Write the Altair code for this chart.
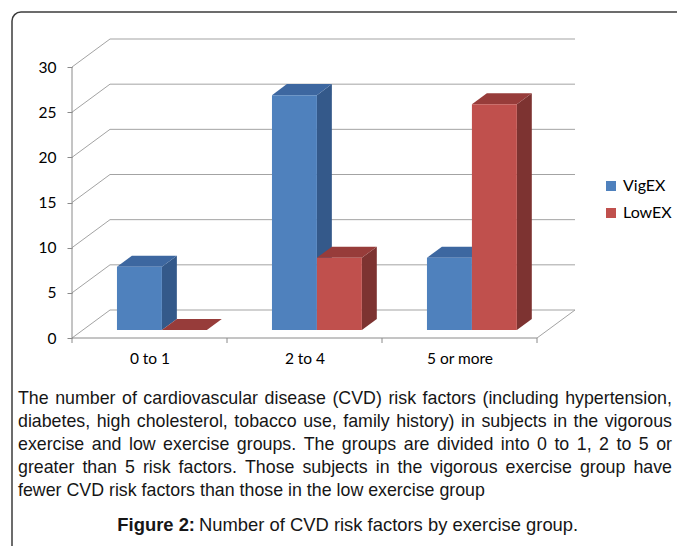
import json

import altair as alt
import pandas as pd

# ---- data -------------------------------------------------------------
CATEGORIES = ["0 to 1", "2 to 4", "5 or more"]
SERIES = ["VigEX", "LowEX"]
VIGEX = [7, 26, 8]
LOWEX = [0, 8, 25]
Y_TICKS = [0, 5, 10, 15, 20, 25, 30]

CAPTION_LINES = [
    "The number of cardiovascular disease (CVD) risk factors (including hypertension,",
    "diabetes, high cholesterol, tobacco use, family history) in subjects in the vigorous",
    "exercise and low exercise groups. The groups are divided into 0 to 1, 2 to 5 or",
    "greater than 5 risk factors. Those subjects in the vigorous exercise group have",
    "fewer CVD risk factors than those in the low exercise group",
]
FIG_LABEL = "Figure 2:"
FIG_TITLE = "Number of CVD risk factors by exercise group."

# ---- style ------------------------------------------------------------
# front, top and side shading of each series' boxes
FACE_COLORS = {
    "VigEX": ("#4F81BD", "#3D67A0", "#34598A"),
    "LowEX": ("#C0504D", "#973C3A", "#7D3331"),
}
GRID = "#A3A3A3"
AXIS = "#8A8A8A"
TICK_FONT, TICK_SIZE = "Lato", 15.5
CAP_FONT, CAP_SIZE = "Liberation Sans", 17.8
FIG_SIZE = 18.4

# ---- oblique 3-D frame geometry (data units) --------------------------
PLOT_W, PLOT_H = 503, 299
PX_PER_CAT = 155
X_MAX = PLOT_W / PX_PER_CAT
Y_MAX = 33.1
WALL_DX = 38 / PX_PER_CAT          # depth of the walls along x
WALL_DY = 28 * Y_MAX / PLOT_H       # depth of the walls along y
BAR_Z0, BAR_Z1 = 0.286, 0.393       # box front position / depth, fraction of wall depth
BAR_W = 0.29
GROUP_CENTER = 0.51

n_cat = len(CATEGORIES)
values = {"VigEX": VIGEX, "LowEX": LOWEX}

front_rows, top_rows, side_rows = [], [], []
for i, cat in enumerate(CATEGORIES):
    for j, s in enumerate(SERIES):
        v = values[s][i]
        bid = f"{s}-{i}"
        sx, sy = BAR_Z0 * WALL_DX, BAR_Z0 * WALL_DY
        dx, dy = BAR_Z1 * WALL_DX, BAR_Z1 * WALL_DY
        x0 = i + GROUP_CENTER - BAR_W + j * BAR_W + sx
        x1 = x0 + BAR_W
        front_rows.append(dict(series=s, category=cat, value=v,
                               x=x0, x2=x1, y=sy, y2=sy + v))
        _, c_top, c_side = FACE_COLORS[s]
        top_rows += [
            dict(bar=bid, fill=c_top, y=sy + v, x=x0, x2=x1),
            dict(bar=bid, fill=c_top, y=sy + v + dy, x=x0 + dx, x2=x1 + dx),
        ]
        side_rows += [
            dict(bar=bid, fill=c_side, x=x1, y=sy, y2=sy + v),
            dict(bar=bid, fill=c_side, x=x1 + dx, y=sy + dy, y2=sy + v + dy),
        ]

grid_rows = []
for v in Y_TICKS:
    grid_rows.append(dict(x=0, y=v, x2=WALL_DX, y2=v + WALL_DY))
    grid_rows.append(dict(x=WALL_DX, y=v + WALL_DY, x2=n_cat + WALL_DX, y2=v + WALL_DY))
grid_rows.append(dict(x=n_cat, y=0, x2=n_cat + WALL_DX, y2=WALL_DY))

axis_rows = [
    dict(x=0, y=0, x2=n_cat, y2=0),
    dict(x=0, y=0, x2=0, y2=max(Y_TICKS)),
]

# ---- justified caption: place each word so lines run flush on both sides
ARIAL_WIDTHS = dict(zip(
    "abcdefghijklmnopqrstuvwxyz",
    [556, 556, 500, 556, 556, 278, 556, 556, 222, 222, 500, 222, 833,
     556, 556, 556, 556, 333, 500, 278, 556, 500, 722, 500, 500, 500],
))
ARIAL_WIDTHS.update(zip(
    "ABCDEFGHIJKLMNOPQRSTUVWXYZ",
    [667, 667, 722, 722, 667, 611, 778, 722, 278, 500, 667, 556, 833,
     722, 778, 667, 778, 722, 667, 611, 722, 667, 944, 667, 667, 611],
))
ARIAL_WIDTHS.update({c: 556 for c in "0123456789"})
ARIAL_WIDTHS.update({" ": 278, ",": 278, ".": 278, ":": 278, "(": 333, ")": 333})


def text_px(s, size=CAP_SIZE):
    return sum(ARIAL_WIDTHS.get(c, 556) for c in s) * size / 1000


CAP_LEFT, CAP_RIGHT = -54, 600      # caption block edges, px from the plot's left
CAP_TOP_BASELINE, CAP_LEADING = 365, 23

word_rows = []
for k, line in enumerate(CAPTION_LINES):
    words = line.split(" ")
    widths = [text_px(w) for w in words]
    last = k == len(CAPTION_LINES) - 1
    gap = text_px(" ") if last else (CAP_RIGHT - CAP_LEFT - sum(widths)) / (len(words) - 1)
    px = CAP_LEFT
    py = CAP_TOP_BASELINE + k * CAP_LEADING
    for w, wd in zip(words, widths):
        word_rows.append(dict(word=w, x=px / PX_PER_CAT, y=Y_MAX * (1 - py / PLOT_H)))
        px += wd + gap

# ---- shared encodings -------------------------------------------------
x_scale = alt.Scale(domain=[0, X_MAX], nice=False, zero=False)
y_scale = alt.Scale(domain=[0, Y_MAX], nice=False, zero=False)
x_axis = alt.Axis(
    values=[k + 0.5 for k in range(n_cat)],
    labelExpr=f"{json.dumps(CATEGORIES)}[round(datum.value - 0.5)]",
    ticks=False, domain=False, grid=False, title=None,
    labelFont=TICK_FONT, labelFontSize=TICK_SIZE, labelColor="#000000", labelPadding=13,
)
y_axis = alt.Axis(
    values=Y_TICKS, domain=False, grid=False, title=None,
    ticks=True, tickSize=5, tickColor=AXIS,
    labelFont=TICK_FONT, labelFontSize=TICK_SIZE, labelColor="#000000", labelPadding=11,
)


def X(field):
    return alt.X(field, type="quantitative", scale=x_scale, axis=x_axis, stack=None)


def Y(field):
    return alt.Y(field, type="quantitative", scale=y_scale, axis=y_axis, stack=None)


one_row = pd.DataFrame({"k": [0]})

frame = alt.Chart(one_row).mark_rect(
    fillOpacity=0, stroke="#3C3C3C", strokeWidth=1.5, cornerRadius=9
).encode(
    x=alt.value(-60), x2=alt.value(640), y=alt.value(-27), y2=alt.value(540)
)

grid = alt.Chart(pd.DataFrame(grid_rows)).mark_rule(color=GRID, strokeWidth=1).encode(
    x=X("x"), x2="x2", y=Y("y"), y2="y2"
)
axes = alt.Chart(pd.DataFrame(axis_rows)).mark_rule(color=AXIS, strokeWidth=1).encode(
    x=X("x"), x2="x2", y=Y("y"), y2="y2"
)
x_ticks = alt.Chart(pd.DataFrame({"x": list(range(n_cat + 1))})).mark_rule(
    color=AXIS, strokeWidth=1
).encode(x=X("x"), y=alt.value(PLOT_H), y2=alt.value(PLOT_H + 5))

sides = alt.Chart(pd.DataFrame(side_rows)).mark_area(orient="vertical").encode(
    x=X("x"), y=Y("y"), y2="y2", detail="bar:N",
    fill=alt.Fill("fill:N", scale=None),
)
tops = alt.Chart(pd.DataFrame(top_rows)).mark_area(orient="horizontal").encode(
    y=Y("y"), x=X("x"), x2="x2", detail="bar:N",
    fill=alt.Fill("fill:N", scale=None),
)
fronts = alt.Chart(pd.DataFrame(front_rows)).mark_rect().encode(
    x=X("x"), x2="x2", y=Y("y"), y2="y2",
    color=alt.Color(
        "series:N",
        scale=alt.Scale(domain=SERIES, range=[FACE_COLORS[s][0] for s in SERIES]),
        legend=alt.Legend(
            title=None, orient="none", legendX=531, legendY=139,
            symbolType="square", symbolSize=100, symbolStrokeWidth=0,
            labelFont=TICK_FONT, labelFontSize=16, labelColor="#000000",
            labelOffset=4, rowPadding=11, padding=0,
        ),
    ),
    tooltip=["category:N", "series:N", "value:Q"],
)

caption = alt.Chart(pd.DataFrame(word_rows)).mark_text(
    align="left", baseline="alphabetic",
    font=CAP_FONT, fontSize=CAP_SIZE, color="#161616",
).encode(x=X("x"), y=Y("y"), text="word:N")

fig_label = alt.Chart(one_row).mark_text(
    text=FIG_LABEL, align="right", baseline="alphabetic",
    font=CAP_FONT, fontSize=FIG_SIZE, fontWeight="bold", color="#161616",
).encode(x=alt.value(123), y=alt.value(492))
fig_title = alt.Chart(one_row).mark_text(
    text=FIG_TITLE, align="left", baseline="alphabetic",
    font=CAP_FONT, fontSize=FIG_SIZE, color="#161616",
).encode(x=alt.value(127), y=alt.value(492))

chart = alt.layer(
    frame, grid, axes, x_ticks, sides, tops, fronts, caption, fig_label, fig_title
).properties(
    width=PLOT_W, height=PLOT_H,
    padding={"left": 72, "top": 39, "right": 677 - 72 - PLOT_W, "bottom": 546 - 39 - PLOT_H},
    autosize=alt.AutoSizeParams(type="none"),
    background="#FFFFFF",
).configure_view(strokeWidth=0)

chart.save("out.html", embed_options={"renderer": "svg", "actions": False})
